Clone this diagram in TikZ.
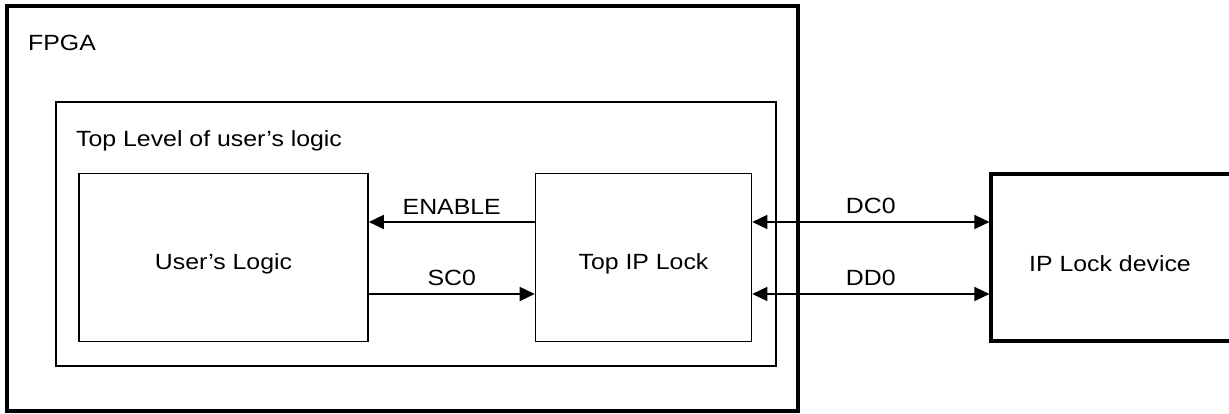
\documentclass[tikz,border=0pt]{standalone}
\usepackage{fontspec}
\setmainfont[FakeStretch=1.13]{Liberation Sans}
\usetikzlibrary{arrows.meta}
\begin{document}
\begin{tikzpicture}[x=1pt,y=-1pt,
  thinbox/.style={draw,line width=1.6pt},
  thickbox/.style={draw,line width=3.2pt},
  lbl/.style={font=\fontsize{22}{25}\selectfont,inner sep=0pt},
  sig/.style={line width=1.6pt,-{Triangle[length=15pt,width=14pt]}},
  bisig/.style={line width=1.6pt,{Triangle[length=15pt,width=14pt]}-{Triangle[length=15pt,width=14pt]}}]
\useasboundingbox (0,0) rectangle (1229,414);
% FPGA
\draw[thickbox] (7,6) rectangle (798,411);
\node[lbl,anchor=base west] (fpgal) at (28,51) {FPGA};
% Top level
\draw[thinbox] (56,102) rectangle (776,366);
\node[lbl,anchor=base west] (topl) at (76,147) {Top Level of user’s logic};
% User's logic
\node[thinbox,minimum width=289pt,minimum height=168pt] (ul) at (223.5,257.5) {};
\node[lbl] (ull) at ([yshift=-6pt]ul.center) {User’s Logic};
% Top IP Lock
\node[thinbox,minimum width=216pt,minimum height=168pt] (tip) at (643.5,257.5) {};
\node[lbl] (tipl) at ([yshift=-6pt]tip.center) {Top IP Lock};
% IP Lock device (extends past right edge)
\coordinate (dtl) at (991,174);
\coordinate (dbl) at (991,341);
\draw[line width=3.2pt] (1235,174) -- (dtl) -- (dbl) -- (1235,341);
\node[lbl] (dev) at (1110,264) {IP Lock device};
\coordinate (devl) at (989.4,222);
\coordinate (devl2) at (989.4,294);
% connectors
\draw[sig] (tip.west |- 0,222) -- (ul.east |- 0,222) node[midway,above=7pt,lbl] (en) {ENABLE};
\draw[sig] (ul.east |- 0,294) -- (tip.west |- 0,294) node[midway,above=7pt,lbl] (sc) {SC0};
\draw[bisig] (tip.east |- 0,222) -- (devl) node[midway,above=7pt,lbl] (dc) {DC0};
\draw[bisig] (tip.east |- 0,294) -- (devl2) node[midway,above=7pt,lbl] (dd) {DD0};
\end{tikzpicture}
\end{document}
